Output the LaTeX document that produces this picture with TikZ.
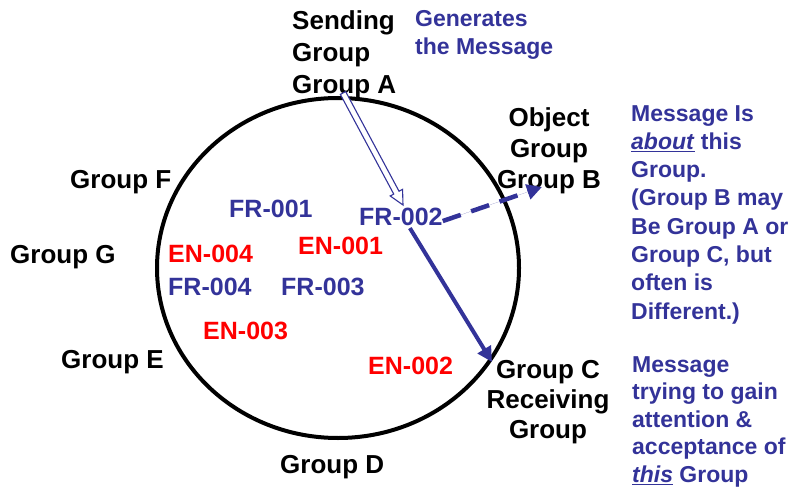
\documentclass[tikz,border=0pt]{standalone}
\usepackage{fontspec}
\setmainfont{Liberation Sans}
\usetikzlibrary{arrows.meta,calc}
\definecolor{msgblue}{RGB}{51,51,153}
\definecolor{msgred}{RGB}{255,0,0}
\tikzset{
  grp/.style={inner sep=0pt, text=black, font=\bfseries\fontsize{26}{31}\selectfont},
  note/.style={inner sep=0pt, text=msgblue, align=left, anchor=north west, font=\bfseries\fontsize{23}{28.3}\selectfont},
  frlab/.style={inner sep=0pt, anchor=north west, text=msgblue, font=\bfseries\fontsize{25}{30}\selectfont},
  enlab/.style={inner sep=0pt, anchor=north west, text=msgred, font=\bfseries\fontsize{25}{30}\selectfont},
  bluearrow/.style={draw=msgblue, line width=4.5pt, -{Triangle[length=15pt,width=15pt]}, fill=msgblue},
}
\begin{document}
\begin{tikzpicture}[x=1pt,y=1pt]
\useasboundingbox (0,0) rectangle (792,488);
% circle
\draw[line width=4pt] (338,220) ellipse [x radius=181, y radius=170];
% group labels
\node[grp, anchor=north west, align=left, font=\bfseries\fontsize{26}{32}\selectfont] (ga) at (292,478) {Sending\\Group\\Group A};
\node[note] (gen) at (415,478) {Generates\\the Message};
\node[grp, anchor=north, align=center] (gb) at (549,381) {Object\\Group\\Group B};
\node[grp, anchor=north west] (gf) at (70,318) {Group F};
\node[grp, anchor=north west] (gg) at (10,243) {Group G};
\node[grp, anchor=north west] (ge) at (61,138) {Group E};
\node[grp, anchor=north west] (gd) at (280,33) {Group D};
\node[grp, anchor=north, align=center, font=\bfseries\fontsize{26}{30}\selectfont] (gc) at (548,128) {Group C\\Receiving\\Group};
\node[note] (about) at (631,383) {Message Is\\\underline{\textit{about}} this\\Group.\\(Group B may\\Be Group A or\\Group C, but\\often is\\Different.)};
\node[note, font=\bfseries\fontsize{23}{27.4}\selectfont] (this) at (632,131.5) {Message\\trying to gain\\attention \&\\acceptance of\\\underline{\textit{this}} Group};
% labels inside circle
\node[frlab] (fr1) at (229,288) {FR-001};
\node[frlab] (fr2) at (359,280) {FR-002};
\node[enlab] (en1) at (298,251) {EN-001};
\node[enlab] (en4) at (168,243) {EN-004};
\node[frlab] (fr4) at (168,210) {FR-004};
\node[frlab] (fr3) at (281,210) {FR-003};
\node[enlab] (en3) at (203,166) {EN-003};
\node[enlab] (en2) at (368,131) {EN-002};
% hollow arrow from sending group to FR-002
\coordinate (As) at (343,395);
\coordinate (At) at (403,283);
\coordinate (Ah) at ($(At)!14pt!(As)$);
\draw[draw=msgblue, line width=1.1pt, fill=white, line join=miter]
  ($(As)!3pt!90:(At)$) -- ($(Ah)!3pt!-90:(As)$) -- ($(Ah)!7pt!-90:(As)$) -- (At)
  -- ($(Ah)!7pt!90:(As)$) -- ($(Ah)!3pt!90:(As)$) -- ($(As)!3pt!-90:(At)$) -- cycle;
% dashed arrow to object group
\coordinate (Bt) at (542,301);
\draw[bluearrow, dash pattern=on 19pt off 11pt] ([yshift=-4pt]fr2.east) -- (Bt);
% solid arrow to receiving group
\coordinate (Ct) at (492,126);
\draw[bluearrow, line width=4pt] ([xshift=9pt,yshift=-2pt]fr2.south) -- (Ct);
\end{tikzpicture}
\end{document}
